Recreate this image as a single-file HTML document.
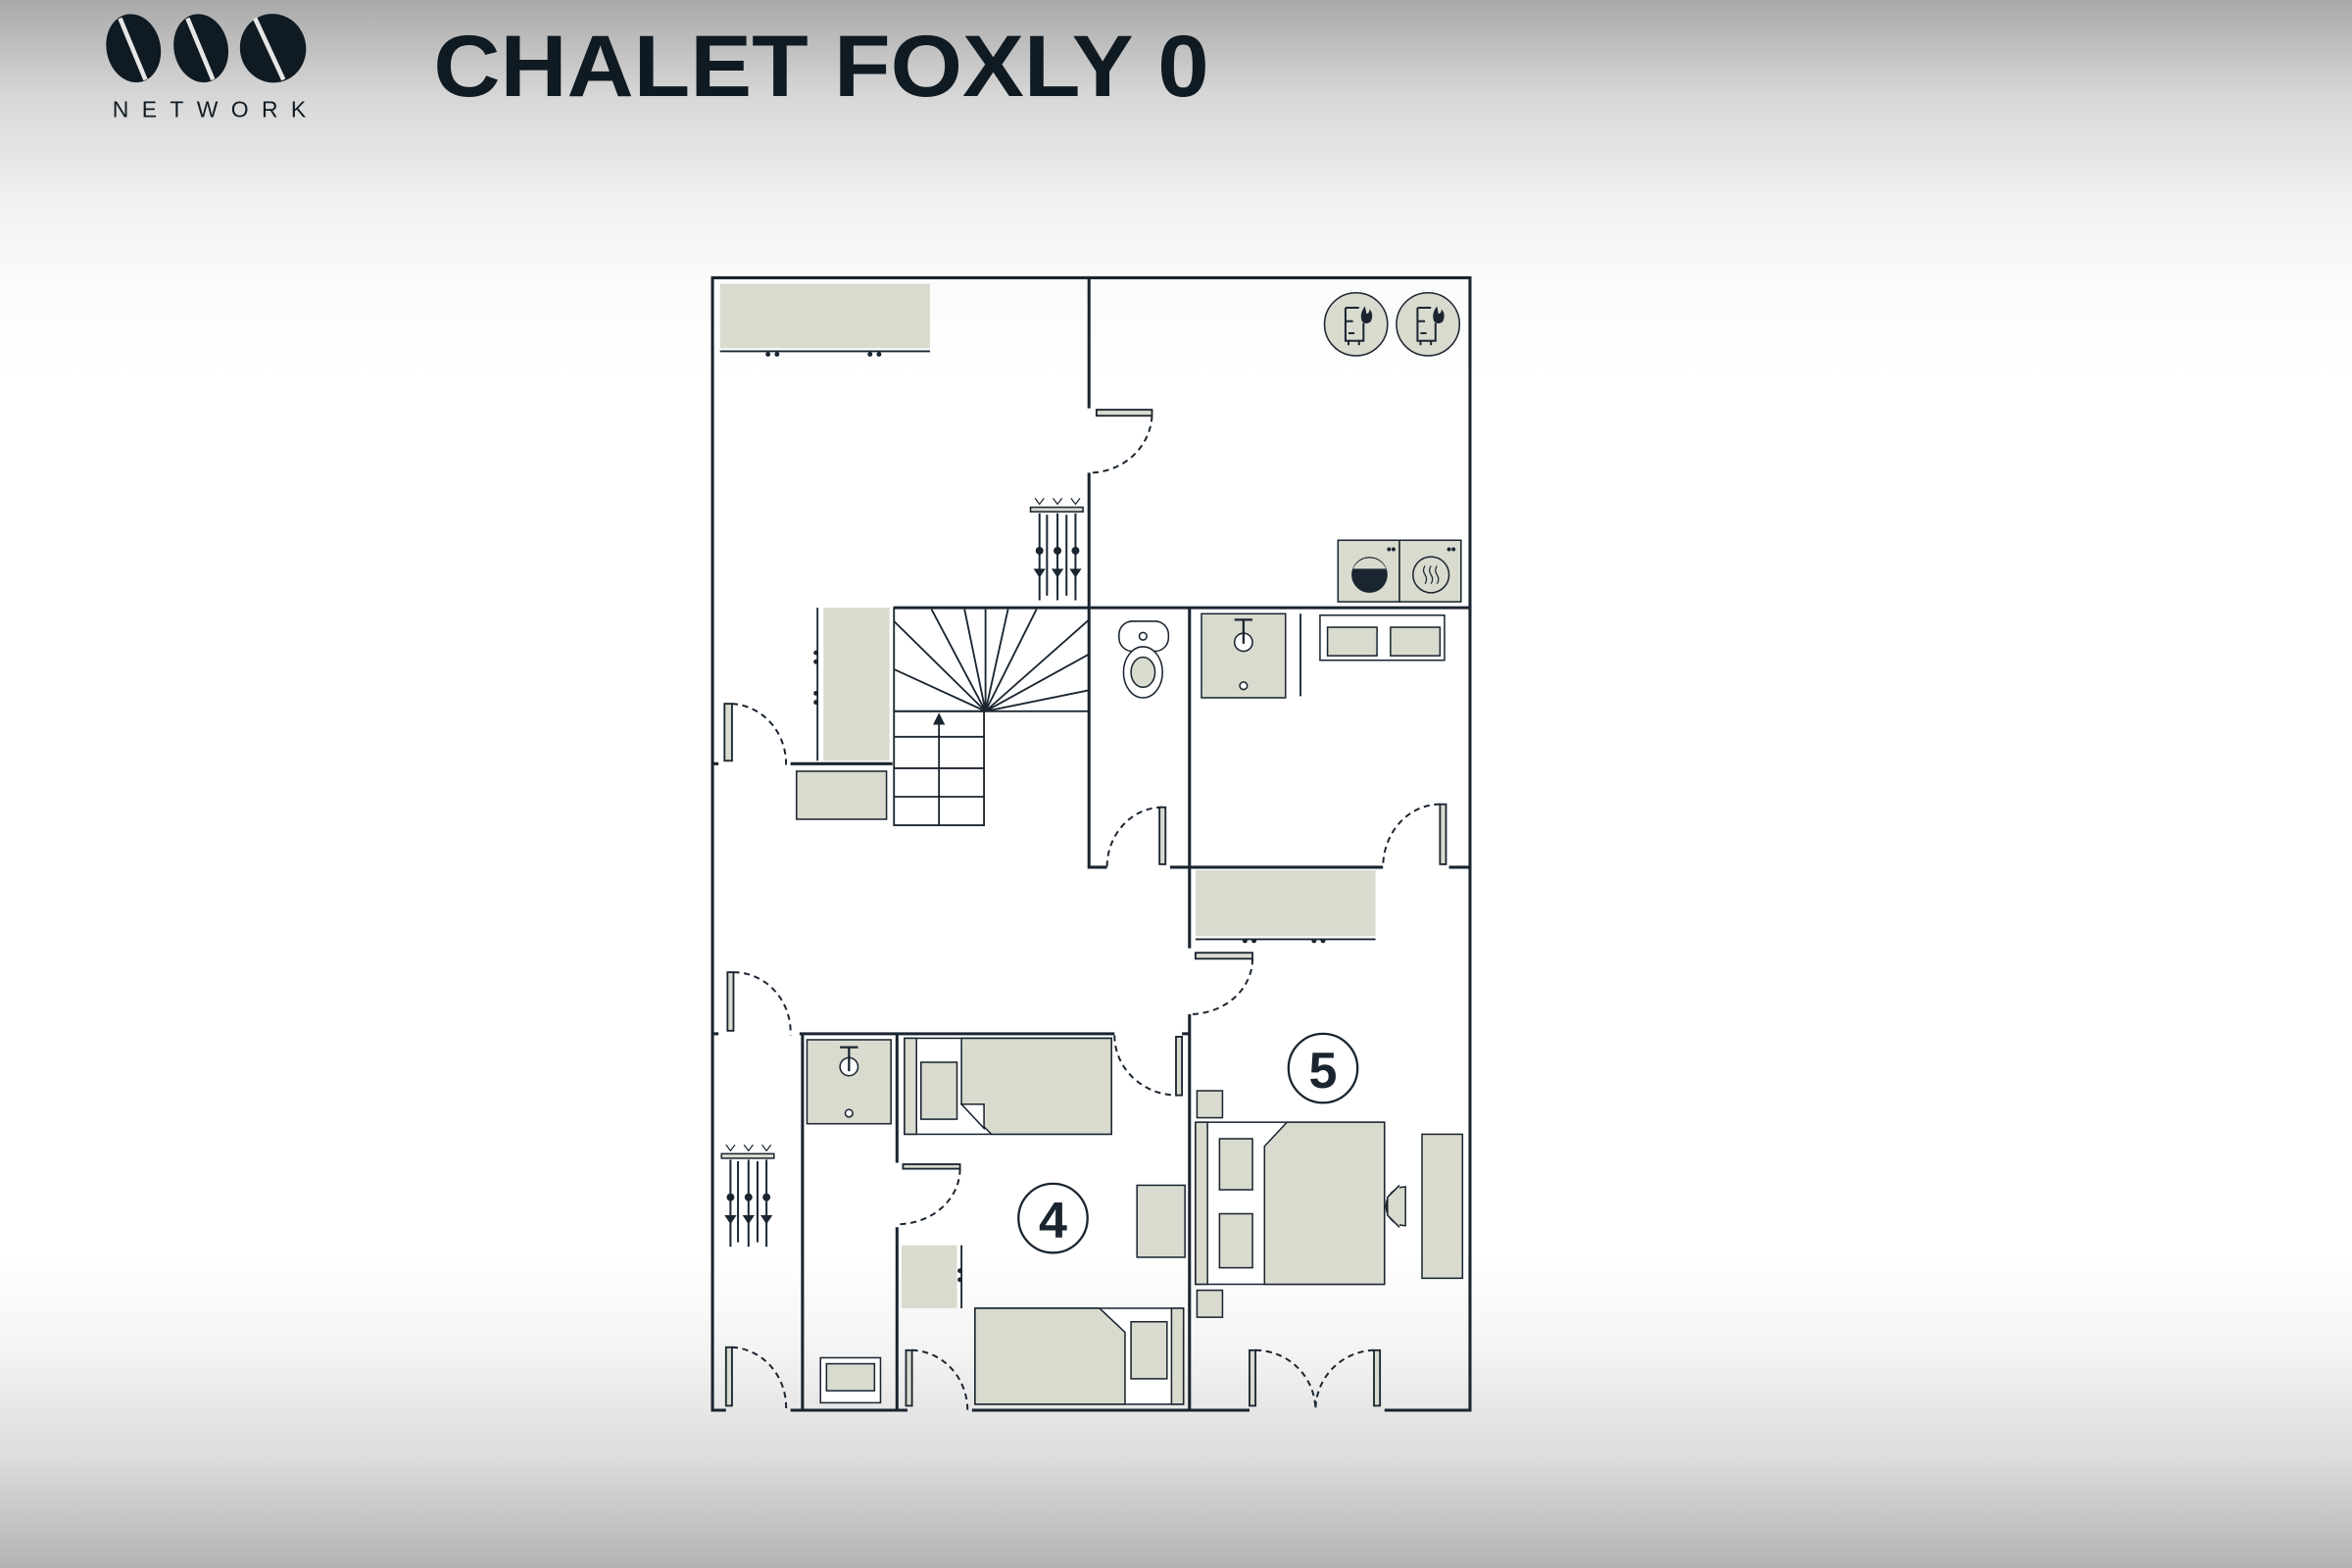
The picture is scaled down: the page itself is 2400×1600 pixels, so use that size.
<!DOCTYPE html>
<html><head><meta charset="utf-8"><style>
html,body{margin:0;padding:0;width:2400px;height:1600px;overflow:hidden;}
body{background:linear-gradient(to bottom,#a9a9a9 0%,#d6d6d6 6%,#eeeeee 12%,#fbfbfb 18%,#ffffff 24%,#ffffff 80%,#f4f4f4 86%,#dcdcdc 93%,#b3b3b3 100%);}
svg{position:absolute;left:0;top:0;}
</style></head><body>
<svg width="2400" height="1600" viewBox="0 0 1568 1045" xmlns="http://www.w3.org/2000/svg">
<defs>
<g id="ski">
<rect x="0" y="3" width="35" height="3" fill="#d9dbcf" stroke="#1a2530" stroke-width="1"/>
<path d="M3 -3 l3 4 l3 -4 M15 -3 l3 4 l3 -4 M27 -3 l3 4 l3 -4" stroke="#1a2530" fill="none" stroke-width="0.8"/>
<path d="M6 7 v58 M18 7 v58 M30 7 v58 M11 8 v54 M24 8 v54" stroke="#1a2530" stroke-width="1.3"/>
<circle cx="6" cy="32" r="2.6" fill="#1a2530"/><circle cx="18" cy="32" r="2.6" fill="#1a2530"/><circle cx="30" cy="32" r="2.6" fill="#1a2530"/>
<path d="M2 44 l4 6 l4 -6z M14 44 l4 6 l4 -6z M26 44 l4 6 l4 -6z" fill="#1a2530"/>
</g>
</defs>
<!-- logo -->
<g fill="#0f1a22">
<ellipse cx="89" cy="32" rx="18" ry="23" transform="rotate(-12 89 32)"/>
<ellipse cx="134" cy="32" rx="18" ry="23" transform="rotate(-12 134 32)"/>
<ellipse cx="182" cy="32" rx="22" ry="23" transform="rotate(-12 182 32)"/>
</g>
<g stroke="#e6e6e6" stroke-width="3" fill="none">
<path d="M80 12 L97 53 M125 12 L142 53 M170 12 L189 53"/>
</g>
<text x="75" y="78" font-family="Liberation Sans, sans-serif" font-size="15" fill="#0f1a22" textLength="129" lengthAdjust="spacing">NETWORK</text>
<text x="289" y="64" font-family="Liberation Sans, sans-serif" font-weight="bold" font-size="58" fill="#0f1a22" textLength="517" lengthAdjust="spacingAndGlyphs">CHALET FOXLY 0</text>

<g stroke="#1a2530" stroke-width="2" fill="none">
<path d="M484 940 H475 V185 H980 V940 H923"/>
<path d="M527 940 H605 M648 940 H833"/>
<path d="M726 185 V272 M726 315 V578 H738"/>
<path d="M596 405 H980"/>
<path d="M793 405 V578 M780 578 H922 M966 578 H980"/>
<path d="M793 578 V632 M793 676 V940"/>
<path d="M475 509 H479 M527 509 H595"/>
<path d="M475 689 H479 M533 689 H743"/>
<path d="M535 689 V940 M598 689 V775 M598 818 V940"/>
<path d="M788 689 H793"/>
</g>
<g stroke="#1a2530" stroke-width="1.3" fill="none" stroke-dasharray="4 3">
<path d="M768 277 A42 40 0 0 1 727 315"/>
<path d="M488 469 A38 40 0 0 1 524 510"/>
<path d="M775 538 A37 40 0 0 0 738 578"/>
<path d="M960 536 A38 42 0 0 0 922 578"/>
<path d="M835 639 A42 37 0 0 1 794 676"/>
<path d="M489 648 A38 40 0 0 1 527 690"/>
<path d="M743 690 A42 40 0 0 0 785 730"/>
<path d="M640 779 A42 37 0 0 1 599 816"/>
<path d="M488 898 A38 40 0 0 1 524 940"/>
<path d="M608 900 A38 40 0 0 1 645 940"/>
<path d="M837 900 A40 40 0 0 1 877 940"/>
<path d="M916 900 A40 40 0 0 0 877 940"/>
</g>
<g fill="#d9dbcf" stroke="#1a2530" stroke-width="1.2">
<rect x="731" y="273" width="37" height="4"/>
<rect x="483" y="469" width="5" height="38"/>
<rect x="773" y="538" width="4" height="38"/>
<rect x="960" y="536" width="4" height="40"/>
<rect x="797" y="635" width="38" height="4"/>
<rect x="485" y="648" width="4" height="39"/>
<rect x="784" y="691" width="4" height="39"/>
<rect x="602" y="776" width="38" height="3"/>
<rect x="484" y="898" width="4" height="39"/>
<rect x="604" y="900" width="4" height="37"/>
<rect x="833" y="900" width="4" height="37"/>
<rect x="916" y="900" width="4" height="37"/>
</g>
<g fill="#d9dbcf" stroke="#1a2530" stroke-width="1">
<rect x="480" y="189" width="140" height="43" stroke="none"/>
<rect x="549" y="405" width="44" height="102" stroke="none"/>
<rect x="531" y="514" width="60" height="32"/>
<rect x="797" y="580" width="120" height="44" stroke="none"/>
<circle cx="904" cy="216" r="21"/><circle cx="952" cy="216" r="21"/>
<rect x="892" y="360" width="41" height="41"/><rect x="933" y="360" width="41" height="41"/>
<rect x="801" y="409" width="56" height="56"/>
<rect x="538" y="693" width="56" height="56"/>
<rect x="758" y="790" width="32" height="48"/>
<rect x="601" y="830" width="37" height="42" stroke="none"/>
<rect x="798" y="727" width="17" height="18"/>
<rect x="798" y="860" width="17" height="18"/>
<rect x="948" y="756" width="27" height="96"/>
<path d="M937 791 A13 13 0 0 0 937 817 Z"/>
<path d="M933 790 L925 798 V810 L933 818" fill="#d9dbcf"/>
</g>
<g stroke="#1a2530" stroke-width="1.2" fill="none">
<path d="M480 234 H620 M797 626 H917 M545 405 V507 M641 830 V872"/>
<path d="M867 409 V464"/>
</g>
<g fill="#1a2530">
<circle cx="512" cy="236" r="1.6"/><circle cx="518" cy="236" r="1.6"/><circle cx="580" cy="236" r="1.6"/><circle cx="586" cy="236" r="1.6"/>
<circle cx="830" cy="627" r="1.6"/><circle cx="836" cy="627" r="1.6"/><circle cx="876" cy="627" r="1.6"/><circle cx="882" cy="627" r="1.6"/>
<circle cx="544" cy="435" r="1.6"/><circle cx="544" cy="441" r="1.6"/><circle cx="544" cy="462" r="1.6"/><circle cx="544" cy="468" r="1.6"/>
<circle cx="640" cy="847" r="1.6"/><circle cx="640" cy="853" r="1.6"/>
</g>
<g stroke="#1a2530" stroke-width="1.3" fill="none">
<path d="M897 205 h9 M897 205 v22 h12 v-12 M899 222 h4 M899 230 v-3 M906 230 v-3 M897 214 h5"/>
<path d="M945 205 h9 M945 205 v22 h12 v-12 M947 222 h4 M947 230 v-3 M954 230 v-3 M945 214 h5"/>
</g>
<path d="M910 204 q-4 5 -2 10 q3 3 6 0 q2 -5 -1 -8 q0 3 -2 3z" fill="#1a2530"/>
<path d="M958 204 q-4 5 -2 10 q3 3 6 0 q2 -5 -1 -8 q0 3 -2 3z" fill="#1a2530"/>
<circle cx="913" cy="383" r="12" fill="#1a2530"/>
<path d="M902 379 A12 12 0 0 1 924 379 Z" fill="#d9dbcf"/>
<circle cx="954" cy="383" r="12" fill="none" stroke="#1a2530" stroke-width="1"/>
<path d="M950 377 q-2 3 0 6 q2 3 0 6 M954 377 q-2 3 0 6 q2 3 0 6 M958 377 q-2 3 0 6 q2 3 0 6" stroke="#1a2530" fill="none" stroke-width="0.8"/>
<g fill="#1a2530"><circle cx="926" cy="366" r="1.3"/><circle cx="929" cy="366" r="1.3"/><circle cx="966" cy="366" r="1.3"/><circle cx="969" cy="366" r="1.3"/></g>
<g stroke="#1a2530" stroke-width="1.2" fill="none">
<rect x="596" y="405" width="130" height="69"/>
<rect x="596" y="474" width="60" height="76"/>
<path d="M596 491 H656 M596 512 H656 M596 531 H656 M626 480 V550"/>
<path d="M657 474 L596 414 M657 474 L621 406 M657 474 L643 406 M657 474 L657 406 M657 474 L672 406 M657 474 L691 406 M657 474 L726 413 M657 474 L726 436 M657 474 L726 460 M657 474 L596 446"/>
</g>
<path d="M622 483 L626 475 L630 483Z" fill="#1a2530"/>
<g stroke="#1a2530" stroke-width="1" fill="#fff">
<rect x="746" y="414" width="33" height="20" rx="9"/>
<ellipse cx="762" cy="448" rx="13" ry="17"/>
<ellipse cx="762" cy="448" rx="8" ry="10" fill="#d9dbcf"/>
<circle cx="762" cy="424" r="2.5"/>
<rect x="880" y="410" width="83" height="30"/>
<rect x="885" y="418" width="33" height="19" fill="#d9dbcf"/>
<rect x="927" y="418" width="33" height="19" fill="#d9dbcf"/>
<circle cx="829" cy="428" r="6"/><circle cx="829" cy="457" r="2.5"/>
<circle cx="566" cy="711" r="6"/><circle cx="566" cy="742" r="2.5"/>
<rect x="547" y="905" width="40" height="30"/>
<rect x="551" y="909" width="32" height="18" fill="#d9dbcf"/>
</g>
<path d="M823 413 h12 M829 413 v16 M560 698 h12 M566 698 v16" stroke="#1a2530" stroke-width="1.5"/>
<use href="#ski" x="687" y="335"/>
<use href="#ski" x="481" y="766"/>
<g stroke="#1a2530" stroke-width="1" fill="#d9dbcf">
<rect x="603" y="692" width="138" height="64" fill="#fff"/>
<rect x="603" y="692" width="8" height="64"/>
<rect x="614" y="708" width="24" height="38"/>
<path d="M641 692 H741 V756 H661 L641 736Z"/>
<path d="M641 736 L656 736 L656 752Z" fill="#fff"/>
<rect x="650" y="872" width="139" height="64" fill="#fff"/>
<rect x="781" y="872" width="8" height="64"/>
<rect x="754" y="881" width="24" height="38"/>
<path d="M650 872 H733 L750 888 V936 H650Z"/>
<rect x="797" y="748" width="126" height="108" fill="#fff"/>
<rect x="797" y="748" width="8" height="108"/>
<rect x="813" y="759" width="22" height="34"/>
<rect x="813" y="809" width="22" height="36"/>
<path d="M858 748 H923 V856 H843 V764Z"/>
</g>
<g stroke="#1a2530" stroke-width="1.5" fill="#fff">
<circle cx="702" cy="812" r="23"/><circle cx="882" cy="712" r="23"/>
</g>
<g font-family="Liberation Sans, sans-serif" font-weight="bold" font-size="34" fill="#1a2530" text-anchor="middle">
<text x="702" y="825">4</text><text x="882" y="725">5</text>
</g>
</svg>
</body></html>
